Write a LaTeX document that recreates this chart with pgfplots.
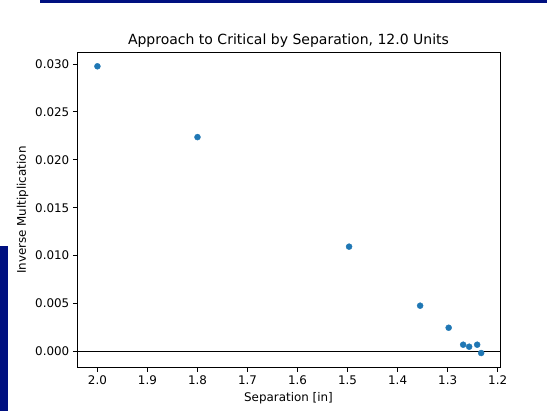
\documentclass[border=0pt]{standalone}
\usepackage{fontspec}
\setmainfont{DejaVu Sans}
\usepackage{pgfplots}
\pgfplotsset{compat=1.18}
\definecolor{mplblue}{HTML}{1F77B4}
\definecolor{barblue}{RGB}{0,16,128}
\begin{document}
\begin{tikzpicture}[x=1pt,y=1pt]
\useasboundingbox (0,0) rectangle (547,411);
\fill[barblue] (40,408) rectangle (547,411);
\fill[barblue] (0,0) rectangle (8,165.3);
\begin{axis}[
  at={(77pt,43.3pt)}, anchor=south west,
  scale only axis, width=423pt, height=315pt,
  x dir=reverse,
  xmin=1.1954, xmax=2.0408,
  ymin=-0.00169, ymax=0.03118,
  xtick={1.2,1.3,...,2.0},
  ytick={0,0.005,0.010,0.015,0.020,0.025,0.030},
  scaled y ticks=false,
  xticklabel style={/pgf/number format/.cd, fixed, fixed zerofill, precision=1},
  yticklabel style={/pgf/number format/.cd, fixed, fixed zerofill, precision=3},
  /pgf/number format/assume math mode=true,
  tick align=outside, major tick length=4.2pt,
  tick style={black, line width=0.9pt},
  axis line style={line width=0.9pt},
  ticklabel style={font=\fontsize{11.9}{14}\selectfont, text=black},
  xtick pos=bottom, ytick pos=left,
  title={Approach to Critical by Separation, 12.0 Units},
  title style={font=\fontsize{14}{17}\selectfont, text=black, at={(0.5,1)}, anchor=south, yshift=-4pt},
  xlabel={Separation [in]},
  ylabel={Inverse Multiplication},
  label style={font=\fontsize{11.9}{14}\selectfont, text=black},
  xlabel style={yshift=-1pt},
  ylabel style={yshift=0pt},
]
\addplot[black, line width=1.6pt, forget plot] coordinates {(1.1954,0) (2.0408,0)};
\addplot[only marks, mark=*, mark size=3pt, mplblue, mark options={draw=mplblue, fill=mplblue}] coordinates {
(2.000,0.02976)
(1.800,0.02237)
(1.497,0.01094)
(1.355,0.00478)
(1.298,0.00248)
(1.269,0.00071)
(1.257,0.00050)
(1.241,0.00071)
(1.233,-0.00016)
};
\end{axis}
\end{tikzpicture}
\end{document}
